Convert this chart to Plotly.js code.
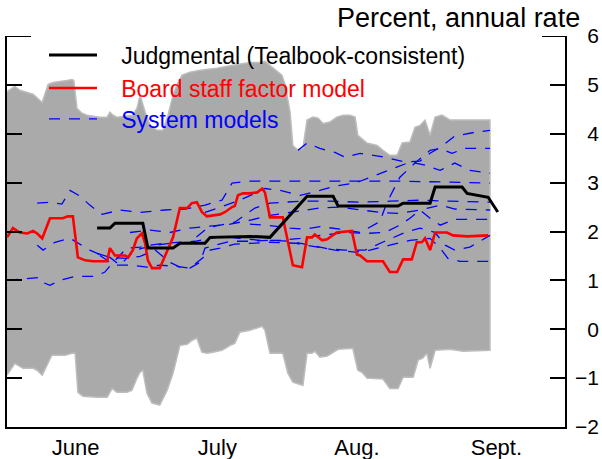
<!DOCTYPE html>
<html>
<head>
<meta charset="utf-8">
<script src="https://cdn.plot.ly/plotly-3.0.1.min.js"></script>
<style>html,body{margin:0;padding:0;background:#fff;}#chart{width:602px;height:459px;}</style>
</head>
<body>
<div id="chart"></div>
<script>
// x = days since June 1
var monthLabels = ["June", "July", "Aug.", "Sept."];
var monthLabelPos = [15, 46, 76.5, 107];
var monthBounds = [30, 61, 92];
var yTicks = [-2, -1, 0, 1, 2, 3, 4, 5, 6];

var bandUpperX = [0,1.1,1.7,2.8,5.0,5.7,7.7,9.0,10.1,12.0,13.1,14.2,14.6,15.3,16.4,17.5,20.3,21.9,22.5,23.2,24.0,27.5,28.4,29.1,30.2,31.3,32.8,34.1,35.2,36.3,37.2,38.3,40.0,42.2,45.9,49.4,53.1,55.3,56.4,60.1,60.8,61.9,62.5,63.6,64.7,65.6,66.9,68.0,69.1,70.6,72.1,73.5,75.0,76.1,76.7,78.7,80.9,82.2,83.7,85.3,86.4,88.1,89.2,90.3,91.4,92.5,93.6,95.1,96.9,105.6];
var bandUpperY = [4.86,4.93,4.97,4.89,4.83,4.81,4.64,5.01,5.05,5.07,5.09,5.11,5.09,4.52,4.42,4.38,4.34,4.34,4.44,4.38,4.34,4.38,4.52,4.79,4.44,4.17,4.07,4.07,4.38,4.79,5.01,5.20,5.26,5.30,5.34,5.40,5.46,5.46,5.48,5.20,5.01,4.44,3.76,3.66,3.70,4.28,4.34,4.32,4.21,4.24,4.34,4.38,4.38,4.34,3.97,3.81,3.76,3.66,3.56,3.56,3.81,3.83,4.13,4.17,4.28,3.97,4.34,4.38,4.28,4.28];
var bandLowerX = [0,0.7,1.7,3.5,5.7,6.6,7.7,8.3,9.8,12.7,14.2,14.9,15.5,16.6,19.7,21.9,23.0,24.0,26.2,27.3,28.4,29.1,29.7,30.6,31.7,33.4,35.0,36.3,37.8,39.4,40.4,41.5,42.6,43.7,45.0,47.0,48.8,49.8,50.9,53.1,55.8,56.4,57.5,60.3,61.4,62.5,64.7,65.6,66.7,67.3,68.4,70.0,71.1,72.4,75.6,76.7,77.6,78.7,82.2,83.7,85.5,86.6,88.8,89.9,90.9,91.8,92.5,93.6,96.9,99.7,105.6];
var bandLowerY = [-0.94,-0.84,-0.70,-0.80,-0.80,-0.84,-0.94,-0.80,-0.53,-0.53,-0.49,-0.49,-1.29,-1.37,-1.39,-1.39,-1.21,-1.29,-1.29,-1.25,-1.00,-0.88,-0.84,-1.31,-1.51,-1.55,-1.25,-0.90,-0.33,-0.31,-0.23,-0.18,-0.47,-0.49,-0.47,-0.43,-0.33,-0.29,-0.06,-0.02,0.06,-0.02,-0.49,-0.49,-0.90,-1.08,-1.15,-0.49,-0.49,-0.45,-0.57,-0.55,-0.49,-0.41,-0.39,-0.84,-0.88,-1.00,-1.02,-1.21,-1.21,-0.98,-0.98,-0.63,-0.59,-0.49,-0.80,-0.43,-0.41,-0.45,-0.43];

var judgX = [19.7,22.5,23.6,29.7,30.8,36.3,37.8,43.3,44.4,53.1,57.5,65.6,71.3,72.4,85.5,86.6,92.5,93.6,99.5,100.6,105.2,107.3];
var judgY = [2.07,2.07,2.17,2.17,1.66,1.66,1.76,1.76,1.88,1.90,1.88,2.72,2.72,2.52,2.52,2.58,2.58,2.91,2.91,2.78,2.70,2.40];

var boardX = [0,1.3,2.8,4.4,5.7,6.6,7.7,9.4,10.5,12.2,13.3,14.4,15.5,17.1,18.8,21.9,22.5,23.6,25.8,26.5,27.5,28.4,29.5,30.2,30.8,31.7,33.4,35.0,36.3,37.8,39.4,40.4,41.5,42.6,43.7,46.6,47.7,49.2,49.8,50.5,51.6,53.1,54.7,55.8,56.4,57.5,60.3,62.5,64.5,65.6,66.7,67.3,68.9,70.0,72.1,75.4,76.5,77.2,78.7,82.2,83.7,85.3,86.6,88.5,89.6,90.7,91.4,92.5,93.6,96.2,97.5,100.6,105.2];
var boardY = [1.88,2.07,1.98,1.96,2.01,1.96,1.86,2.27,2.27,2.27,2.31,2.31,1.47,1.41,1.39,1.39,1.66,1.51,1.51,1.47,1.62,1.86,1.96,1.76,1.41,1.25,1.25,1.58,1.88,2.48,2.48,2.58,2.60,2.40,2.31,2.35,2.40,2.50,2.52,2.74,2.78,2.78,2.80,2.88,2.80,2.29,2.29,1.31,1.27,1.88,1.88,1.94,1.82,1.84,1.98,2.01,1.53,1.51,1.39,1.39,1.17,1.17,1.43,1.43,1.78,1.78,1.86,1.62,1.98,1.98,1.92,1.90,1.92];

var sys1X = [63.6,65.6,68.4,71.7,73.9,77.2,82.6,87.0,90.3,92.5,94.7,97.9,102.3,105.6];
var sys1Y = [3.66,3.81,3.70,3.62,3.52,3.60,3.52,3.42,3.44,3.60,3.72,3.95,4.03,4.07];
var sys2X = [53.1,57.5,61.9,65.1,68.4,72.8,77.2,81.5,83.1,85.9,89.2,92.5,94.7,97.3,100.1,105.6];
var sys2Y = [2.15,2.12,2.07,2.05,2.10,2.05,1.98,2.20,2.60,3.11,3.40,3.66,3.70,3.60,3.70,3.70];
var sys3X = [43.3,47.7,50.9,54.2,56.4,59.7,64.1,68.4,71.7,76.1,80.5,84.8,88.1,91.4,94.7,97.9,101.2,105.6];
var sys3Y = [2.39,2.54,2.64,2.78,2.88,2.84,2.74,2.84,2.93,2.99,3.15,3.29,3.42,3.36,3.25,3.40,3.25,3.19];
var sys4X = [6.6,9.4,12.0,13.8,16.0,18.1,20.8,24.7,29.1,34.5,38.9,43.3,47.0,49.2,53.1,64.1,75.0,85.9,96.9,105.6];
var sys4Y = [2.58,2.60,2.56,2.84,2.72,2.54,2.35,2.44,2.39,2.44,2.46,2.54,2.64,2.99,3.03,3.03,3.03,3.03,3.01,2.99];
var sys5X = [6.6,7.9,10.5,13.8,18.1,20.3,22.5,24.7,28.0,31.3,35.6,40.0,43.3,45.5,49.8,54.2,57.5,64.1,70.6,77.2,83.7,90.3,96.9,105.6];
var sys5Y = [1.72,1.62,1.78,1.86,1.62,1.53,1.47,1.31,1.62,1.70,1.76,1.78,2.03,2.11,2.19,2.48,2.58,2.62,2.62,2.60,2.62,2.64,2.62,2.60];
var sys6X = [26.9,31.3,35.6,40.0,44.4,48.8,53.1,57.5,61.9,65.1,68.4,72.8,77.2,81.5,85.9,90.3,94.7,97.9,105.6];
var sys6Y = [1.98,2.03,1.98,2.07,2.11,2.15,2.23,2.33,2.39,2.44,2.48,2.50,2.44,2.39,2.37,2.44,2.54,2.46,2.44];
var sys7X = [0,2.8,5.0,7.2,8.3,9.4,11.6,14.9,19.2,21.4,23.2,24.7,26.2,29.1,31.3,34.5,37.8,41.1,44.4,47.7,50.9,55.3,59.7,64.1,68.4,73.9,78.3,82.6,85.9,88.1,90.3,92.5,94.7,97.9,105.6];
var sys7Y = [1.00,1.02,1.04,1.06,0.94,0.90,1.00,1.08,1.08,1.17,1.37,1.51,1.66,1.68,1.72,1.76,1.78,1.80,1.86,1.90,1.86,1.82,1.82,1.86,1.92,1.98,1.96,1.98,2.13,2.27,2.44,2.27,2.13,2.25,2.25];
var sys8X = [19.7,22.5,26.2,29.1,32.4,35.6,37.8,40.0,42.2,43.3,45.5,48.8,53.1,57.5,61.9,66.2,70.6,73.9,78.3,82.6,84.4,87.0,90.3,93.6,95.8,97.9,101.2,105.6];
var sys8Y = [1.55,1.47,1.45,1.49,1.62,1.37,1.27,1.25,1.37,1.66,1.72,1.80,1.80,1.82,1.80,1.72,1.64,1.62,1.62,1.80,1.88,1.98,2.07,1.98,1.72,1.62,1.68,1.92];
var sys9X = [20.3,23.6,27.5,30.6,33.4,36.7,40.0,41.5,42.9,44.4,46.6,49.8,53.1,57.5,63.0,68.4,71.7,76.1,79.4,83.7,88.1,92.5,94.7,96.4,99.0,105.6];
var sys9Y = [1.51,1.31,1.31,1.27,1.31,1.29,1.25,1.37,1.47,1.62,1.66,1.74,1.76,1.78,1.76,1.68,1.62,1.58,1.62,1.72,1.82,1.86,1.66,1.45,1.39,1.39];

var sysX = [sys1X, sys2X, sys3X, sys4X, sys5X, sys6X, sys7X, sys8X, sys9X];
var sysY = [sys1Y, sys2Y, sys3Y, sys4Y, sys5Y, sys6Y, sys7Y, sys8Y, sys9Y];

var GAP = '\u00a0\u00a0\u00a0';
var traces = [];
traces.push({
  x: bandUpperX.concat(bandLowerX.slice().reverse()),
  y: bandUpperY.concat(bandLowerY.slice().reverse()),
  type: 'scatter', mode: 'lines', fill: 'toself',
  fillcolor: '#aaaaaa', line: {color: '#bdbdbd', width: 1.5},
  showlegend: false, hoverinfo: 'skip'
});
for (var i = 0; i < sysX.length; i++) {
  traces.push({
    x: sysX[i], y: sysY[i], type: 'scatter', mode: 'lines',
    line: {color: '#0000ff', width: 1.3, dash: '11px,9px'},
    name: GAP + '<span style="color:#0000ff">System models</span>',
    legend: 'legend3', showlegend: i === 0
  });
}
traces.push({
  x: boardX, y: boardY, type: 'scatter', mode: 'lines',
  line: {color: '#ff0000', width: 2.6},
  name: GAP + '<span style="color:#ff0000">Board staff factor model</span>',
  legend: 'legend2'
});
traces.push({
  x: judgX, y: judgY, type: 'scatter', mode: 'lines',
  line: {color: '#000000', width: 3},
  name: GAP + 'Judgmental (Tealbook-consistent)',
  legend: 'legend'
});
// helper trace so the right-hand label axis is drawn
traces.push({x: [], y: [], yaxis: 'y2', type: 'scatter', mode: 'lines', showlegend: false, hoverinfo: 'skip'});

var xdom = 558 / 592;
function legendAt(py) {
  return {
    x: 37 / 592, y: (427 - py) / 391, xanchor: 'left', yanchor: 'middle',
    bgcolor: 'rgba(0,0,0,0)', borderwidth: 0,
    font: {size: 23, family: 'Liberation Sans, Arial, sans-serif'},
    itemwidth: 48
  };
}
var layout = {
  width: 602, height: 459,
  margin: {l: 7, r: 3, t: 36, b: 32},
  paper_bgcolor: '#ffffff', plot_bgcolor: '#ffffff',
  font: {family: 'Liberation Sans, Arial, sans-serif', color: '#000', size: 21},
  showlegend: true,
  legend: legendAt(55),
  legend2: legendAt(88),
  legend3: legendAt(119),
  xaxis: {
    domain: [0, xdom], range: [0, 122],
    tickmode: 'array', tickvals: monthLabelPos, ticktext: monthLabels,
    ticks: '', showline: true, linewidth: 2, linecolor: '#000',
    showgrid: false, zeroline: false, tickfont: {size: 22}
  },
  xaxis2: {
    overlaying: 'x', anchor: 'y', side: 'bottom', domain: [0, xdom], range: [0, 122],
    tickmode: 'array', tickvals: monthBounds, ticks: 'inside', ticklen: 18,
    tickwidth: 2, tickcolor: '#000', showticklabels: false, showline: false,
    showgrid: false, zeroline: false
  },
  yaxis: {
    range: [-2, 6], side: 'right', tickmode: 'array', tickvals: yTicks,
    ticks: 'inside', ticklen: 15, tickwidth: 2, tickcolor: '#000',
    showline: true, linewidth: 2, linecolor: '#000', mirror: 'ticks',
    showticklabels: false, showgrid: false, zeroline: false
  },
  yaxis2: {
    overlaying: 'y', anchor: 'free', position: 1, side: 'left',
    range: [-2, 6], tickmode: 'array', tickvals: yTicks,
    ticks: '', showline: false, showgrid: false, zeroline: false,
    showticklabels: true, tickfont: {size: 21}
  },
  shapes: [
    {type: 'line', xref: 'paper', yref: 'y', x0: 0, x1: 24 / 592, y0: 6, y1: 6, line: {color: '#000', width: 2}},
    {type: 'line', xref: 'paper', yref: 'y', x0: xdom - 23 / 592, x1: xdom, y0: 6, y1: 6, line: {color: '#000', width: 2}}
  ],
  annotations: [{
    text: 'Percent, annual rate', xref: 'paper', yref: 'paper',
    x: 575 / 592, y: 1 + 18 / 391, xanchor: 'right', yanchor: 'middle',
    showarrow: false, font: {size: 27}
  }]
};

Plotly.newPlot('chart', traces, layout, {displayModeBar: false, staticPlot: true});
</script>
</body>
</html>
